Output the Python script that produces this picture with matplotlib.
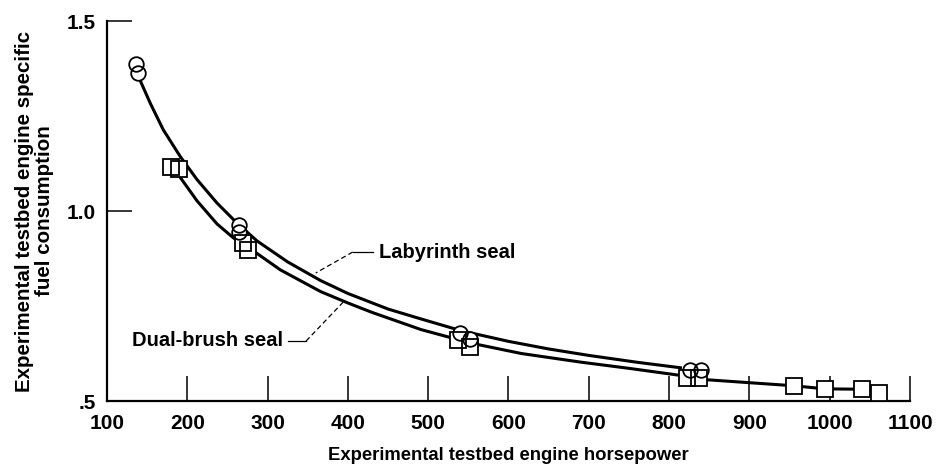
"""
plot.py

Specific fuel consumption vs horsepower for the experimental testbed engine,
labyrinth seal vs dual-brush seal. Open markers = measurements, solid
curves = faired lines through them.
"""

import matplotlib
matplotlib.use("Agg")
import matplotlib.pyplot as plt

# ── data ─────────────────────────────────────────────────────────────────────
LAB_HP  = [136, 138, 265, 265, 539, 552, 826, 840]
LAB_SFC = [1.387, 1.363, 0.963, 0.945, 0.679, 0.663, 0.582, 0.582]

BRUSH_HP  = [180, 190, 269, 276, 537, 552, 822, 837, 956, 994, 1040, 1062]
BRUSH_SFC = [1.116, 1.111, 0.916, 0.897, 0.660, 0.642, 0.560, 0.560,
             0.540, 0.531, 0.531, 0.520]

# faired curves
LAB_FIT_HP  = [141, 154, 170, 191, 212, 237, 262, 287, 325, 366, 400, 450,
               491, 541, 600, 650, 700, 760, 816]
LAB_FIT_SFC = [1.345, 1.283, 1.214, 1.144, 1.083, 1.021, 0.968, 0.921,
               0.866, 0.817, 0.783, 0.742, 0.716, 0.685, 0.657, 0.637,
               0.620, 0.602, 0.587]

BRUSH_FIT_HP  = [191, 212, 237, 257, 287, 316, 366, 400, 429, 491, 554, 616,
                 691, 750, 812]
BRUSH_FIT_SFC = [1.089, 1.027, 0.966, 0.930, 0.888, 0.845, 0.788, 0.758,
                 0.734, 0.688, 0.652, 0.625, 0.602, 0.586, 0.568]

# common tail above ~840 hp
TAIL_HP  = [840, 956, 994, 1040, 1062]
TAIL_SFC = [0.557, 0.540, 0.532, 0.531, 0.520]

X_TICKS = [100, 200, 300, 400, 500, 600, 700, 800, 900, 1000, 1100]
Y_TICKS = [0.5, 1.0, 1.5]
Y_TICKLABELS = [".5", "1.0", "1.5"]

FONT = "Liberation Sans"
OUTPUT_NAME = "out"


def markers(ax, x, y, marker, size):
    # white blob first so the curves do not show through, then open outline
    ax.plot(x, y, linestyle="None", marker=marker, markersize=size,
            markerfacecolor="white", markeredgecolor="white",
            markeredgewidth=0, zorder=3)
    ax.plot(x, y, linestyle="None", marker=marker, markersize=size,
            markerfacecolor="none", markeredgecolor="black",
            markeredgewidth=1.3, zorder=4)


def main():
    plt.rcParams["font.family"] = [FONT, "DejaVu Sans"]
    plt.rcParams["font.weight"] = "bold"

    fig = plt.figure(figsize=(9.42, 4.72), dpi=100)
    ax = fig.add_axes([0.1136, 0.1504, 0.8524, 0.8051])

    # curves
    lw = 2.2
    for xs, ys in [(LAB_FIT_HP, LAB_FIT_SFC),
                   (BRUSH_FIT_HP, BRUSH_FIT_SFC),
                   (TAIL_HP, TAIL_SFC)]:
        ax.plot(xs, ys, color="black", lw=lw, zorder=2,
                solid_capstyle="butt", solid_joinstyle="round")

    markers(ax, LAB_HP, LAB_SFC, "o", 10.5)
    markers(ax, BRUSH_HP, BRUSH_SFC, "s", 11)

    # callouts
    ax.plot([431, 406], [0.892, 0.892], color="black", lw=0.9)
    ax.plot([406, 360], [0.892, 0.837], color="black", lw=0.9,
            linestyle=(0, (4, 2.5)))
    ax.text(439, 0.892, "Labyrinth seal", fontsize=14.5, fontweight="bold",
            ha="left", va="center")

    ax.plot([325, 348], [0.658, 0.658], color="black", lw=0.9)
    ax.plot([348, 394], [0.658, 0.760], color="black", lw=0.9,
            linestyle=(0, (4, 2.5)))
    ax.text(319, 0.658, "Dual-brush seal", fontsize=14.5, fontweight="bold",
            ha="right", va="center")

    # axes styling
    ax.set_xlim(100, 1100)
    ax.set_ylim(0.5, 1.5)
    ax.set_xticks(X_TICKS)
    ax.set_yticks(Y_TICKS)
    ax.set_yticklabels(Y_TICKLABELS)

    ax.spines["top"].set_visible(False)
    ax.spines["right"].set_visible(False)
    ax.spines["left"].set_linewidth(1.6)
    ax.spines["bottom"].set_linewidth(1.6)
    ax.tick_params(direction="in", length=18, width=1.1, labelsize=15)
    ax.tick_params(axis="x", pad=9)
    ax.tick_params(axis="y", pad=8)
    for lab in ax.get_xticklabels() + ax.get_yticklabels():
        lab.set_fontweight("bold")

    ax.set_xlabel("Experimental testbed engine horsepower",
                  fontsize=13.3, fontweight="bold")
    ax.set_ylabel("Experimental testbed engine specific\nfuel consumption",
                  fontsize=14.8, fontweight="bold", linespacing=1.05)
    ax.xaxis.set_label_coords(0.5, -0.12)
    ax.yaxis.set_label_coords(-0.066, 0.5)

    fig.savefig(f"{OUTPUT_NAME}.png", dpi=100, facecolor="white")


if __name__ == "__main__":
    main()
